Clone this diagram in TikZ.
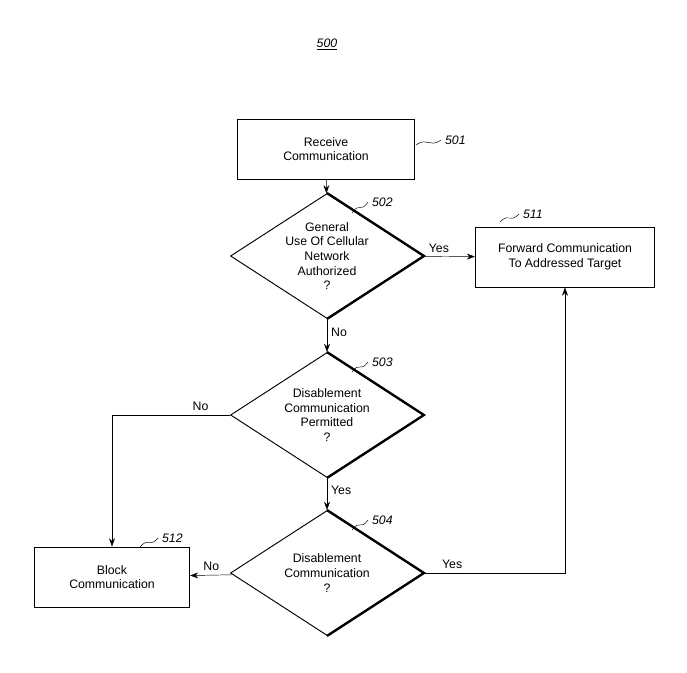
\documentclass[tikz,border=0pt]{standalone}
\usepackage{fontspec}
\setmainfont{Liberation Sans}
\usetikzlibrary{shapes.geometric,arrows.meta,calc}
\begin{document}
\begin{tikzpicture}[x=0.03cm,y=-0.03cm,>={Stealth[length=7pt,width=5pt]},font=\fontsize{10.5}{12.5}\selectfont]
    \tikzstyle{box}=[draw,thick,minimum width=5.3cm,minimum height=1.8cm,align=center]
    \tikzstyle{test}=[draw,thick,diamond,minimum width=5.79cm,minimum height=3.75cm,aspect=1.54,inner sep=0pt,align=center]
    \tikzstyle{ref}=[font=\fontsize{10.5}{12.5}\selectfont\itshape]
    \useasboundingbox (0,0) rectangle (687,673);

    \node[ref] (fig) at (327,44) {\underline{500}};

    \node[box] (recv) at (326,149) {Receive\\Communication};
    \node[test] (gen) at (327,256) {General\\Use Of Cellular\\Network\\Authorized\\?};
    \node[test] (perm) at (327,415) {Disablement\\Communication\\Permitted\\?};
    \node[test] (dis) at (327,573) {Disablement\\Communication\\?};
    \node[box,minimum width=5.37cm] (fwd) at (565,257) {Forward Communication\\To Addressed Target};
    \node[box,minimum width=4.65cm] (block) at (112,577) {Block\\Communication};

    % heavy right edges of the tests
    \foreach \d in {gen,perm,dis}
        \draw[line width=2pt] (\d.north) -- (\d.east) -- (\d.south);

    % reference numerals
    \node[ref,anchor=west] (r501) at (441,140) {501};
    \node[ref,anchor=west] (r502) at (368,202) {502};
    \node[ref,anchor=west] (r511) at (519,214) {511};
    \node[ref,anchor=west] (r503) at (368,362) {503};
    \node[ref,anchor=west] (r504) at (368,520) {504};
    \node[ref,anchor=west] (r512) at (158,538) {512};
    \coordinate (c501) at (416,145);
    \coordinate (c502) at (352,213);
    \coordinate (c511) at (500,222);
    \coordinate (c503) at (352,372);
    \coordinate (c504) at (352,530);
    \coordinate (c512) at (140,547);
    \foreach \a/\b in {c501/r501,c502/r502,c511/r511,c503/r503,c504/r504,c512/r512}
        \draw (\a) .. controls ($(\a)!0.5!(\b.west)+(0,-6)$) and ($(\a)!0.5!(\b.west)+(0,6)$) .. (\b.west);

    \draw[->] (recv) -- (gen);
    \draw[->] (gen) -- node[above,pos=0.3] {Yes} (fwd);
    \draw[->] (gen) -- node[right,pos=0.4] {No} (perm);
    \draw[->] (perm.west) -- node[above,pos=0.25] {No} (perm.west -| block) -- (block);
    \draw[->] (perm) -- node[right,pos=0.4] {Yes} (dis);
    \draw[->] (dis) -- node[above,pos=0.5] {No} (block);
    \draw[->] (dis) -- node[above,pos=0.2] {Yes} (dis -| fwd) -- (fwd);
\end{tikzpicture}
\end{document}
